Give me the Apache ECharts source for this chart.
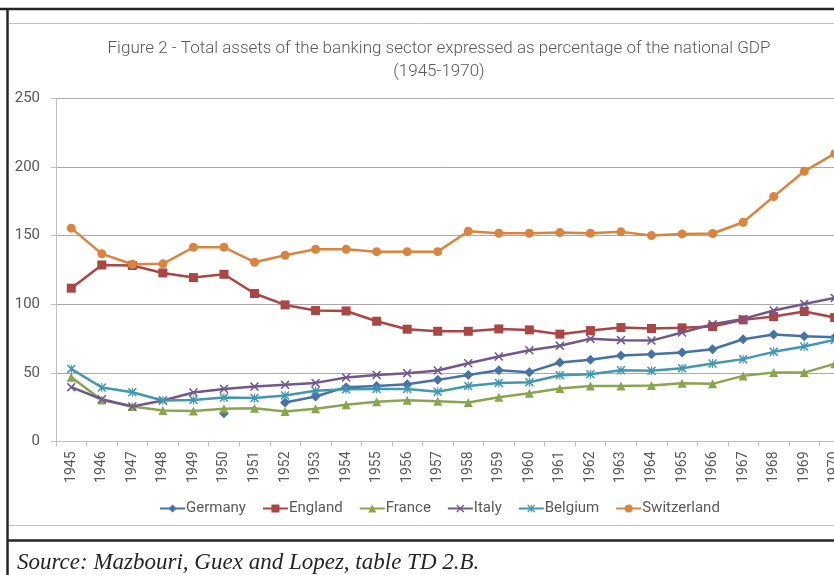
<!DOCTYPE html>
<html>
<head>
<meta charset="utf-8">
<script src="https://cdn.jsdelivr.net/npm/echarts@6/dist/echarts.min.js"></script>
<style>
  html, body { margin: 0; padding: 0; background: #fff; }
  #chart { width: 834px; height: 575px; }
</style>
</head>
<body>
<div id="chart"></div>
<script>
let years = ['1945', '1946', '1947', '1948', '1949', '1950', '1951', '1952', '1953', '1954', '1955', '1956', '1957',
    '1958', '1959', '1960', '1961', '1962', '1963', '1964', '1965', '1966', '1967', '1968', '1969', '1970'];
let germany = [null, null, null, null, null, 20.6, null, 28.4, 32.8, 39.6, 40.5, 41.7, 44.9,
    48.5, 51.9, 50.5, 57.5, 59.5, 62.6, 63.6, 64.8, 67.2, 74.5, 77.9, 76.7, 76];
let england = [111.7, 128.6, 128.2, 122.8, 119.4, 121.8, 107.8, 99.5, 95.4, 95.1, 87.6, 81.8, 80.3,
    80.3, 82, 81.3, 78.2, 80.8, 83, 82.3, 82.8, 83.7, 88.6, 91, 94.7, 90.3];
let france = [46.8, 30.3, 25.5, 22.6, 22.3, 23.8, 24.3, 21.8, 23.8, 26.7, 28.9, 30.1, 29.4,
    28.4, 32.3, 35.2, 38.6, 40.5, 40.5, 40.8, 42.5, 42, 47.8, 50.2, 50.2, 56.6];
let italy = [39.6, 30.8, 25.5, 29.9, 35.7, 38.3, 40, 41.3, 42.7, 46.6, 48.5, 49.8, 51.7,
    57, 61.9, 66.5, 69.7, 74.8, 73.8, 73.5, 79.4, 85.4, 89.3, 95.4, 100.2, 104.6];
let belgium = [52.9, 39.3, 35.9, 29.9, 30.3, 32, 31.6, 33.5, 36.9, 38.1, 38.3, 38.3, 36.2,
    40.5, 42.7, 43.2, 48.3, 49, 51.9, 51.5, 53.4, 56.8, 60, 65.3, 69.2, 74];
let switzerland = [155.4, 136.7, 129.1, 129.4, 141.5, 141.5, 130.6, 135.7, 140, 140, 138.3, 138.3, 138.3,
    153.2, 151.7, 151.7, 152.2, 151.7, 152.7, 150, 151.2, 151.5, 159.7, 178.4, 196.8, 209.7];
let yTicks = [0, 50, 100, 150, 200, 250];

let crossPath = 'path://M0,1.2L1.2,0L5,3.8L8.8,0L10,1.2L6.2,5L10,8.8L8.8,10L5,6.2L1.2,10L0,8.8L3.8,5Z';
let starPath = crossPath + 'M4.4,0L5.6,0L5.6,10L4.4,10Z';

let myChart = echarts.init(document.getElementById('chart'));

function makeSeries(name, data, color, symbol, size) {
    return {
        name: name,
        type: 'line',
        data: data,
        symbol: symbol,
        symbolSize: size,
        showAllSymbol: true,
        connectNulls: false,
        color: color,
        lineStyle: { width: 2.5, color: color },
        itemStyle: { color: color }
    };
}

let option = {
    animation: false,
    textStyle: { fontFamily: 'Roboto' },
    title: {
        text: 'Figure 2 - Total assets of the banking sector expressed as percentage of the national GDP\n(1945-1970)',
        left: 434,
        top: 32,
        textAlign: 'center',
        textStyle: {
            fontFamily: 'Roboto',
            fontWeight: 300,
            fontSize: 17,
            color: '#595959',
            lineHeight: 23
        }
    },
    legend: {
        data: ['Germany', 'England', 'France', 'Italy', 'Belgium', 'Switzerland'],
        left: 154,
        top: 496,
        itemWidth: 25,
        itemHeight: 10,
        itemGap: 16,
        textStyle: { fontSize: 15, color: '#595959', fontFamily: 'Roboto', padding: [0, 0, 0, -4] }
    },
    grid: {
        left: 56,
        top: 98.3,
        width: 794,
        height: 343.2,
        outerBoundsMode: 'none',
        containLabel: false
    },
    xAxis: {
        type: 'category',
        data: years,
        boundaryGap: true,
        axisLine: { lineStyle: { color: '#bfbfbf', width: 1 } },
        axisTick: { show: true, length: 5, lineStyle: { color: '#bfbfbf' } },
        axisLabel: { rotate: 90, fontSize: 14, color: '#595959', margin: 10, interval: 0 }
    },
    yAxis: {
        type: 'value',
        min: yTicks[0],
        max: yTicks[yTicks.length - 1],
        interval: 50,
        axisLine: { show: true, lineStyle: { color: '#bfbfbf', width: 1 } },
        axisTick: { show: true, length: 5, lineStyle: { color: '#bfbfbf' } },
        splitLine: { lineStyle: { color: '#aaaaaa', width: 1 } },
        axisLabel: { fontSize: 15, color: '#595959', margin: 16 }
    },
    series: [
        makeSeries('Germany', germany, '#4572A7', 'diamond', 10),
        makeSeries('England', england, '#AA4643', 'rect', 9),
        makeSeries('France', france, '#89A54E', 'triangle', 9),
        makeSeries('Italy', italy, '#71588F', crossPath, 9),
        makeSeries('Belgium', belgium, '#4198AF', starPath, 9),
        makeSeries('Switzerland', switzerland, '#DB843D', 'circle', 9)
    ],
    graphic: [
        { type: 'line', shape: { x1: 0, y1: 9, x2: 834, y2: 9 }, style: { stroke: '#262626', lineWidth: 2.5 } },
        { type: 'line', shape: { x1: 7.5, y1: 9, x2: 7.5, y2: 575 }, style: { stroke: '#262626', lineWidth: 2.5 } },
        { type: 'line', shape: { x1: 7, y1: 540.5, x2: 834, y2: 540.5 }, style: { stroke: '#262626', lineWidth: 2.5 } },
        { type: 'line', shape: { x1: 9, y1: 23.5, x2: 834, y2: 23.5 }, style: { stroke: '#c0c0c0', lineWidth: 1 } },
        { type: 'line', shape: { x1: 9, y1: 525.5, x2: 834, y2: 525.5 }, style: { stroke: '#c0c0c0', lineWidth: 1 } },
        {
            type: 'text',
            x: 17,
            y: 563,
            style: {
                text: 'Source: Mazbouri, Guex and Lopez, table TD 2.B.',
                font: 'italic 23px "Liberation Serif", "DejaVu Serif", serif',
                fill: '#262626',
                textVerticalAlign: 'middle'
            }
        }
    ]
};
myChart.setOption(option);
</script>
</body>
</html>
